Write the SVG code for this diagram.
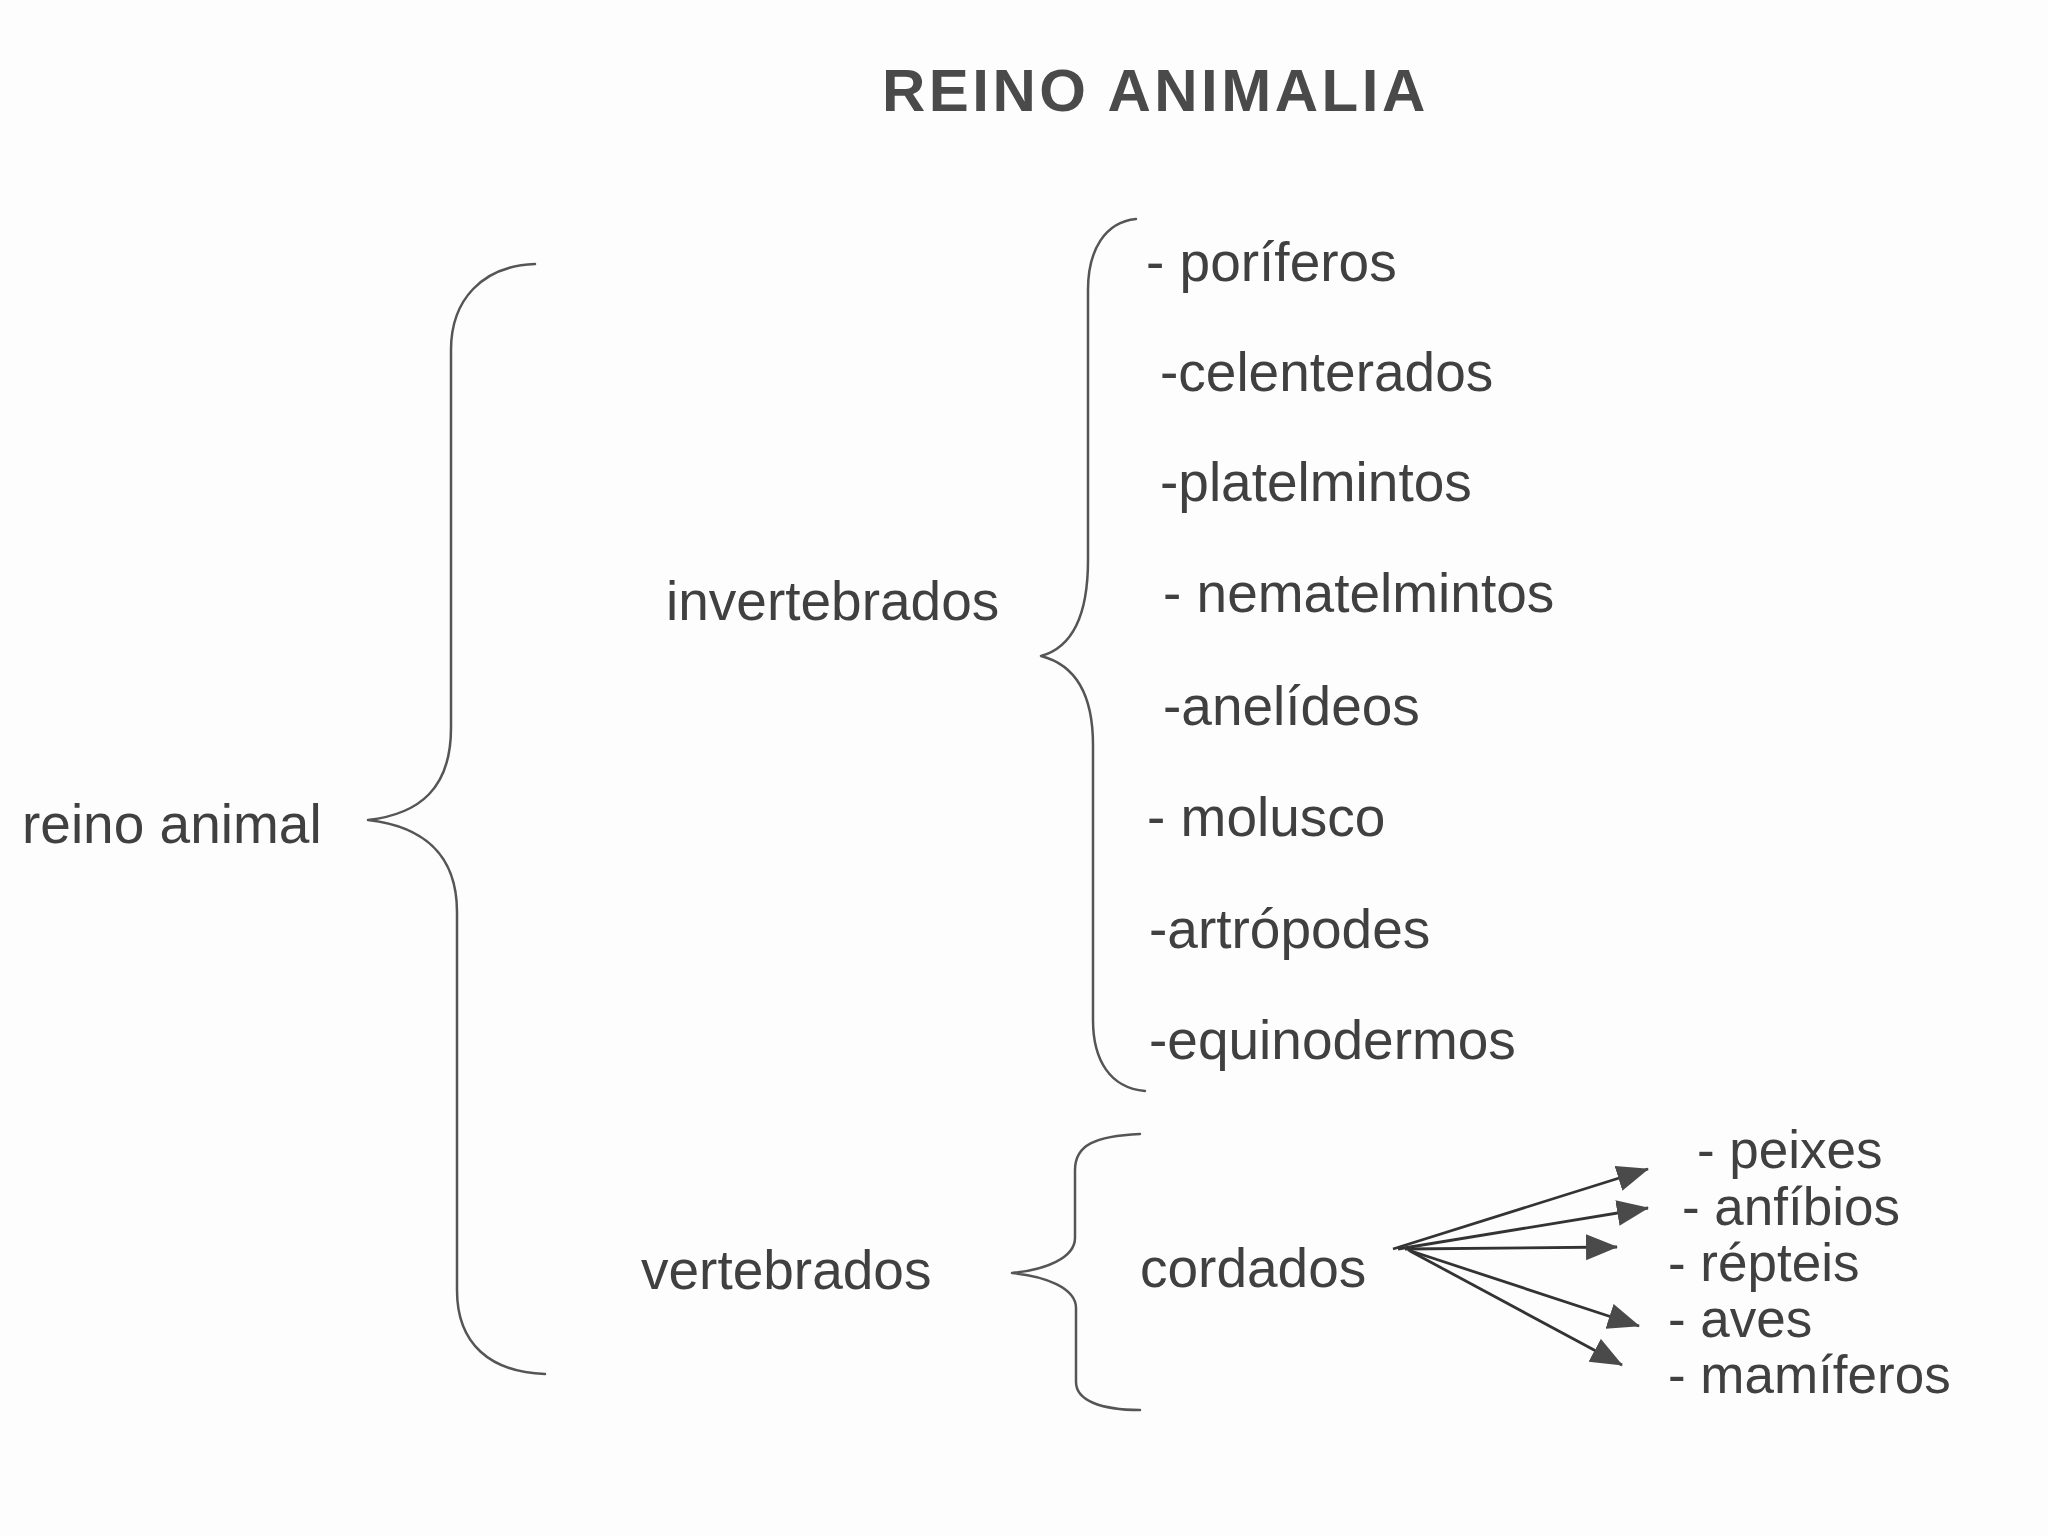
<svg xmlns="http://www.w3.org/2000/svg" width="2048" height="1536" viewBox="0 0 2048 1536">
<style>
  .t { font-family: "Liberation Sans", Arial, sans-serif; font-size: 55px; fill: #404040; }
  .s { font-size: 53px; }
  .title { font-family: "Liberation Sans", Arial, sans-serif; font-size: 60px; font-weight: bold; fill: #4a4a4a; letter-spacing: 3.5px; }
  .br { fill: none; stroke: #555; stroke-width: 2.5; stroke-linecap: round; stroke-linejoin: round; }
  .ar { fill: none; stroke: #333; stroke-width: 2.8; }
</style>
<defs>
  <marker id="ah" markerUnits="userSpaceOnUse" markerWidth="34" markerHeight="28" refX="31" refY="13" orient="auto">
    <path d="M0,0 L32,13 L0,26 z" fill="#4a4a4a"/>
  </marker>
</defs>
<rect width="2048" height="1536" fill="#fdfdfd"/>

<g id="title">
  <text class="title" x="882" y="111">REINO ANIMALIA</text>
</g>

<g id="reino-animal">
  <text class="t" x="22" y="843">reino animal</text>
</g>
<g id="invertebrados">
  <text class="t" x="666" y="620">invertebrados</text>
</g>
<g id="vertebrados">
  <text class="t" x="641" y="1289">vertebrados</text>
</g>
<g id="cordados">
  <text class="t" x="1140" y="1287">cordados</text>
</g>

<g id="invertebrate-list">
  <text class="t" x="1146" y="281">- poríferos</text>
  <text class="t" x="1160" y="391">-celenterados</text>
  <text class="t" x="1160" y="501">-platelmintos</text>
  <text class="t" x="1163" y="612">- nematelmintos</text>
  <text class="t" x="1163" y="725">-anelídeos</text>
  <text class="t" x="1147" y="836">- molusco</text>
  <text class="t" x="1149" y="948">-artrópodes</text>
  <text class="t" x="1149" y="1059">-equinodermos</text>
</g>

<g id="vertebrate-list">
  <text class="t s" x="1697" y="1168">- peixes</text>
  <text class="t s" x="1682" y="1225">- anfíbios</text>
  <text class="t s" x="1668" y="1281">- répteis</text>
  <text class="t s" x="1668" y="1337">- aves</text>
  <text class="t s" x="1668" y="1393">- mamíferos</text>
</g>

<g id="connectors">
  <path class="br" d="M535,264 C482,266 451,300 451,350 L451,728 C451,788 420,814 368,820 C420,826 457,852 457,912 L457,1290 C457,1344 490,1372 545,1374"/>
  <path class="br" d="M1136,219 C1105,222 1088,250 1088,290 L1088,560 C1088,620 1070,648 1041,656 C1072,664 1093,690 1093,745 L1093,1020 C1093,1060 1110,1088 1145,1091"/>
  <path class="br" d="M1140,1134 C1095,1136 1075,1145 1075,1170 L1075,1238 C1075,1258 1045,1270 1012,1273 C1045,1276 1076,1288 1076,1308 L1076,1382 C1076,1400 1100,1410 1140,1410"/>
  <line class="ar" x1="1393" y1="1249" x2="1648" y2="1169" marker-end="url(#ah)"/>
  <line class="ar" x1="1398" y1="1249" x2="1648" y2="1208" marker-end="url(#ah)"/>
  <line class="ar" x1="1405" y1="1249" x2="1617" y2="1247" marker-end="url(#ah)"/>
  <line class="ar" x1="1408" y1="1250" x2="1639" y2="1326" marker-end="url(#ah)"/>
  <line class="ar" x1="1410" y1="1251" x2="1622" y2="1365" marker-end="url(#ah)"/>
</g>
</svg>
